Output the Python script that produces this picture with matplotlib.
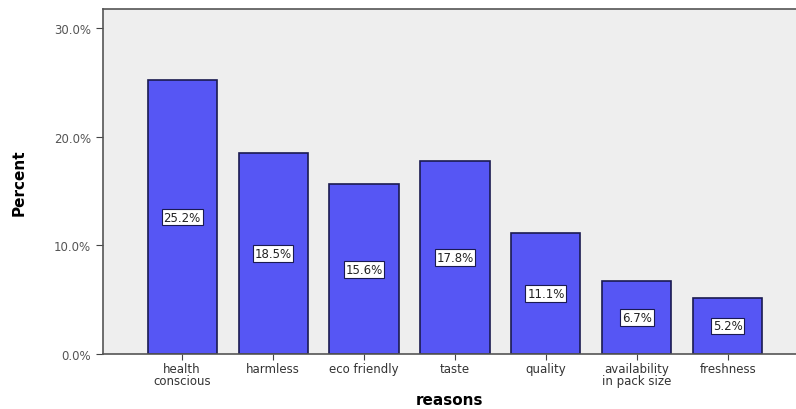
import numpy as np
import matplotlib.pyplot as plt
from matplotlib.ticker import FuncFormatter

# ── Data ─────────────────────────────────────────────────────────────────────
reasons = ["health\nconscious", "harmless", "eco friendly", "taste",
           "quality", "availability\nin pack size", "freshness"]
percent = [25.2, 18.5, 15.6, 17.8, 11.1, 6.7, 5.2]
yticks = [0, 10, 20, 30]

# ── Plot ─────────────────────────────────────────────────────────────────────
fig = plt.figure(figsize=(7.96, 4.10), dpi=100)
ax = fig.add_axes([0.1294, 0.134, 0.8706, 0.8416])
ax.set_facecolor("#eeeeee")

x = np.arange(len(reasons))
ax.bar(x, percent, width=0.76, color="#5656f4", edgecolor="#1a1a50", linewidth=1.2)

for xi, v in zip(x, percent):
    ax.text(xi, v / 2, f"{v:.1f}%", ha="center", va="center", fontsize=8.5,
            color="#222222",
            bbox=dict(boxstyle="square,pad=0.15", fc="white", ec="#1a1a50", lw=0.8))

ax.set_xlim(-0.87, 6.75)
ax.set_ylim(0, 31.74)
ax.set_xticks(x)
ax.set_xticklabels(reasons, fontsize=8.5, color="#333333", linespacing=0.9)
ax.set_yticks(yticks)
ax.yaxis.set_major_formatter(FuncFormatter(lambda v, _: f"{v:.1f}%"))
ax.tick_params(axis="y", labelsize=8.5, labelcolor="#555555", length=5, color="#444444")
ax.tick_params(axis="x", length=4, color="#444444", pad=2)

for s in ["top", "left", "bottom"]:
    ax.spines[s].set_color("#555555")
    ax.spines[s].set_linewidth(1.2)
ax.spines["right"].set_visible(False)

ax.set_ylabel("Percent", fontsize=11, fontweight="bold", labelpad=20)
ax.set_xlabel("reasons", fontsize=11, fontweight="bold", labelpad=3)

plt.savefig("out.png", dpi=100)
